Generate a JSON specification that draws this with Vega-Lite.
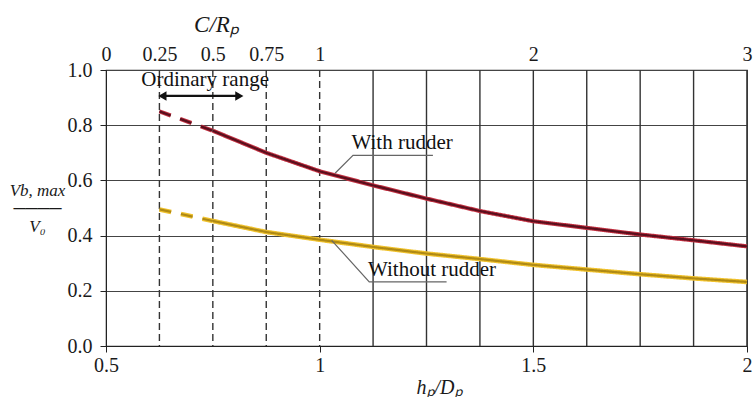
{
  "$schema": "https://vega.github.io/schema/vega-lite/v6.json",
  "width": 641,
  "height": 276,
  "autosize": {"type": "none"},
  "padding": {"left": 106, "top": 70, "right": 6, "bottom": 51},
  "background": "white",
  "config": {
    "font": "Liberation Serif",
    "view": {"stroke": "#333", "strokeWidth": 1.2},
    "axis": {"labelFont": "Liberation Serif", "titleFont": "Liberation Serif", "labelColor": "#1a1a1a", "titleColor": "#1a1a1a", "domainColor": "#222", "tickColor": "#222", "labelFontSize": 20, "labelFlush": false, "labelOverlap": false}
  },
  "datasets": {
    "vlines": [
      {"c": 0.25, "kind": "dashed"}, {"c": 0.5, "kind": "dashed"}, {"c": 0.75, "kind": "dashed"}, {"c": 1, "kind": "dashed"},
      {"c": 1.25, "kind": "solid"}, {"c": 1.5, "kind": "solid"}, {"c": 1.75, "kind": "solid"}, {"c": 2, "kind": "solid"},
      {"c": 2.25, "kind": "solid"}, {"c": 2.5, "kind": "solid"}, {"c": 2.75, "kind": "solid"}, {"c": 3, "kind": "solid"}
    ],
    "curves": [
      {"curve": "With rudder", "seg": "ext", "hp": 0.625, "v": 0.85},
      {"curve": "With rudder", "seg": "ext", "hp": 0.75, "v": 0.78},
      {"curve": "With rudder", "seg": "main", "hp": 0.75, "v": 0.78},
      {"curve": "With rudder", "seg": "main", "hp": 0.875, "v": 0.70},
      {"curve": "With rudder", "seg": "main", "hp": 1.0, "v": 0.633},
      {"curve": "With rudder", "seg": "main", "hp": 1.125, "v": 0.582},
      {"curve": "With rudder", "seg": "main", "hp": 1.25, "v": 0.534},
      {"curve": "With rudder", "seg": "main", "hp": 1.375, "v": 0.489},
      {"curve": "With rudder", "seg": "main", "hp": 1.5, "v": 0.452},
      {"curve": "With rudder", "seg": "main", "hp": 1.625, "v": 0.428},
      {"curve": "With rudder", "seg": "main", "hp": 1.75, "v": 0.404},
      {"curve": "With rudder", "seg": "main", "hp": 1.875, "v": 0.383},
      {"curve": "With rudder", "seg": "main", "hp": 2.0, "v": 0.361},
      {"curve": "Without rudder", "seg": "ext", "hp": 0.625, "v": 0.495},
      {"curve": "Without rudder", "seg": "ext", "hp": 0.75, "v": 0.453},
      {"curve": "Without rudder", "seg": "main", "hp": 0.75, "v": 0.453},
      {"curve": "Without rudder", "seg": "main", "hp": 0.875, "v": 0.413},
      {"curve": "Without rudder", "seg": "main", "hp": 1.0, "v": 0.385},
      {"curve": "Without rudder", "seg": "main", "hp": 1.125, "v": 0.359},
      {"curve": "Without rudder", "seg": "main", "hp": 1.25, "v": 0.335},
      {"curve": "Without rudder", "seg": "main", "hp": 1.375, "v": 0.315},
      {"curve": "Without rudder", "seg": "main", "hp": 1.5, "v": 0.294},
      {"curve": "Without rudder", "seg": "main", "hp": 1.625, "v": 0.277},
      {"curve": "Without rudder", "seg": "main", "hp": 1.75, "v": 0.26},
      {"curve": "Without rudder", "seg": "main", "hp": 1.875, "v": 0.245},
      {"curve": "Without rudder", "seg": "main", "hp": 2.0, "v": 0.232}
    ],
    "labels": [
      {"hp": 0.732, "v": 0.962, "text": "Ordinary range"},
      {"hp": 1.193, "v": 0.735, "text": "With rudder"},
      {"hp": 1.263, "v": 0.274, "text": "Without rudder"}
    ],
    "leaders": [
      {"id": "a", "o": 1, "hp": 1.036, "v": 0.626},
      {"id": "a", "o": 2, "hp": 1.078, "v": 0.691},
      {"id": "a", "o": 3, "hp": 1.265, "v": 0.691},
      {"id": "b", "o": 1, "hp": 1.028, "v": 0.383},
      {"id": "b", "o": 2, "hp": 1.116, "v": 0.2326},
      {"id": "b", "o": 3, "hp": 1.297, "v": 0.2326}
    ],
    "arrow": [{"hp": 0.635, "hp2": 0.808, "v": 0.906}],
    "heads": [
      {"hp": 0.632, "v": 0.906, "dir": "left"},
      {"hp": 0.812, "v": 0.906, "dir": "right"}
    ]
  },
  "layer": [
    {
      "data": {"name": "vlines"},
      "mark": {"type": "rule", "color": "#333", "strokeWidth": 1.4},
      "encoding": {
        "x": {
          "field": "c", "type": "quantitative",
          "scale": {"domain": [0, 3], "nice": false, "zero": false},
          "axis": {
            "orient": "top", "values": [0, 0.25, 0.5, 0.75, 1, 2, 3], "format": "~g",
            "ticks": false, "labelPadding": 6, "grid": false, "domain": false,
            "labelFont": "Liberation Serif", "labelFontSize": 20,
            "title": "C/Rₚ", "titleFont": "Liberation Serif", "titleFontStyle": "italic", "titleFontWeight": "normal", "titleFontSize": 23,
            "titleX": 110, "titleY": -46, "titleBaseline": "middle", "titleAnchor": "middle"
          }
        },
        "strokeDash": {
          "field": "kind", "type": "nominal",
          "scale": {"domain": ["solid", "dashed"], "range": [[1, 0], [7, 4]]},
          "legend": null
        }
      }
    },
    {
      "encoding": {
        "x": {
          "field": "hp", "type": "quantitative",
          "scale": {"domain": [0.5, 2], "nice": false, "zero": false},
          "axis": {
            "orient": "bottom", "values": [0.5, 1, 1.5, 2], "format": "~g", "grid": false,
            "tickSize": 6, "labelPadding": 3,
            "labelFont": "Liberation Serif", "labelFontSize": 20,
            "title": "hₚ/Dₚ", "titleFont": "Liberation Serif", "titleFontStyle": "italic", "titleFontWeight": "normal", "titleFontSize": 20,
            "titleX": 333, "titleY": 41, "titleBaseline": "middle", "titleAnchor": "middle", "titleAlign": "center"
          }
        },
        "y": {
          "field": "v", "type": "quantitative",
          "scale": {"domain": [0, 1], "nice": false, "zero": false},
          "axis": {
            "values": [0, 0.2, 0.4, 0.6, 0.8, 1.0], "format": ".1f", "grid": true,
            "gridColor": "#444", "gridWidth": 1.2, "tickSize": 6, "labelPadding": 8,
            "labelFont": "Liberation Serif", "labelFontSize": 20,
            "title": ["Vb, max", "────", "V₀"], "titleFont": "Liberation Serif", "titleAngle": 0, "titleFontStyle": "italic",
            "titleFontWeight": "normal", "titleFontSize": 17, "titleLineHeight": 18,
            "titleX": -69, "titleY": 112, "titleAlign": "center", "titleBaseline": "top"
          }
        }
      },
      "layer": [
        {
          "data": {"name": "curves"},
          "transform": [{"filter": "datum.curve === 'With rudder'"}],
          "mark": {"type": "line", "color": "#c23040", "strokeWidth": 4.2},
          "encoding": {
            "strokeDash": {"field": "seg", "type": "nominal", "scale": {"domain": ["main", "ext"], "range": [[1, 0], [12, 10]]}, "legend": null}
          }
        },
        {
          "data": {"name": "curves"},
          "transform": [{"filter": "datum.curve === 'With rudder'"}],
          "mark": {"type": "line", "color": "#5a0f1d", "strokeWidth": 2.2},
          "encoding": {
            "strokeDash": {"field": "seg", "type": "nominal", "scale": {"domain": ["main", "ext"], "range": [[1, 0], [12, 10]]}, "legend": null}
          }
        },
        {
          "data": {"name": "curves"},
          "transform": [{"filter": "datum.curve === 'Without rudder'"}],
          "mark": {"type": "line", "color": "#f0c22e", "strokeWidth": 4.6},
          "encoding": {
            "strokeDash": {"field": "seg", "type": "nominal", "scale": {"domain": ["main", "ext"], "range": [[1, 0], [12, 10]]}, "legend": null}
          }
        },
        {
          "data": {"name": "curves"},
          "transform": [{"filter": "datum.curve === 'Without rudder'"}],
          "mark": {"type": "line", "color": "#b08a14", "strokeWidth": 2.2},
          "encoding": {
            "strokeDash": {"field": "seg", "type": "nominal", "scale": {"domain": ["main", "ext"], "range": [[1, 0], [12, 10]]}, "legend": null}
          }
        },
        {
          "data": {"name": "leaders"},
          "mark": {"type": "line", "color": "#666", "strokeWidth": 1.2},
          "encoding": {
            "detail": {"field": "id", "type": "nominal"},
            "order": {"field": "o", "type": "quantitative"}
          }
        },
        {
          "data": {"name": "labels"},
          "mark": {"type": "text", "font": "Liberation Serif", "fontSize": 21, "color": "#111", "align": "center", "baseline": "middle"},
          "encoding": {"text": {"field": "text", "type": "nominal"}}
        },
        {
          "data": {"name": "arrow"},
          "mark": {"type": "rule", "color": "#111", "strokeWidth": 2.2},
          "encoding": {"x2": {"field": "hp2"}}
        },
        {
          "data": {"name": "heads"},
          "mark": {"type": "point", "filled": true, "color": "#111", "opacity": 1, "size": 90},
          "encoding": {
            "shape": {"field": "dir", "type": "nominal", "scale": {"domain": ["left", "right"], "range": ["triangle-left", "triangle-right"]}, "legend": null}
          }
        }
      ]
    }
  ],
  "resolve": {"scale": {"x": "independent", "strokeDash": "independent"}, "axis": {"x": "independent"}}
}
